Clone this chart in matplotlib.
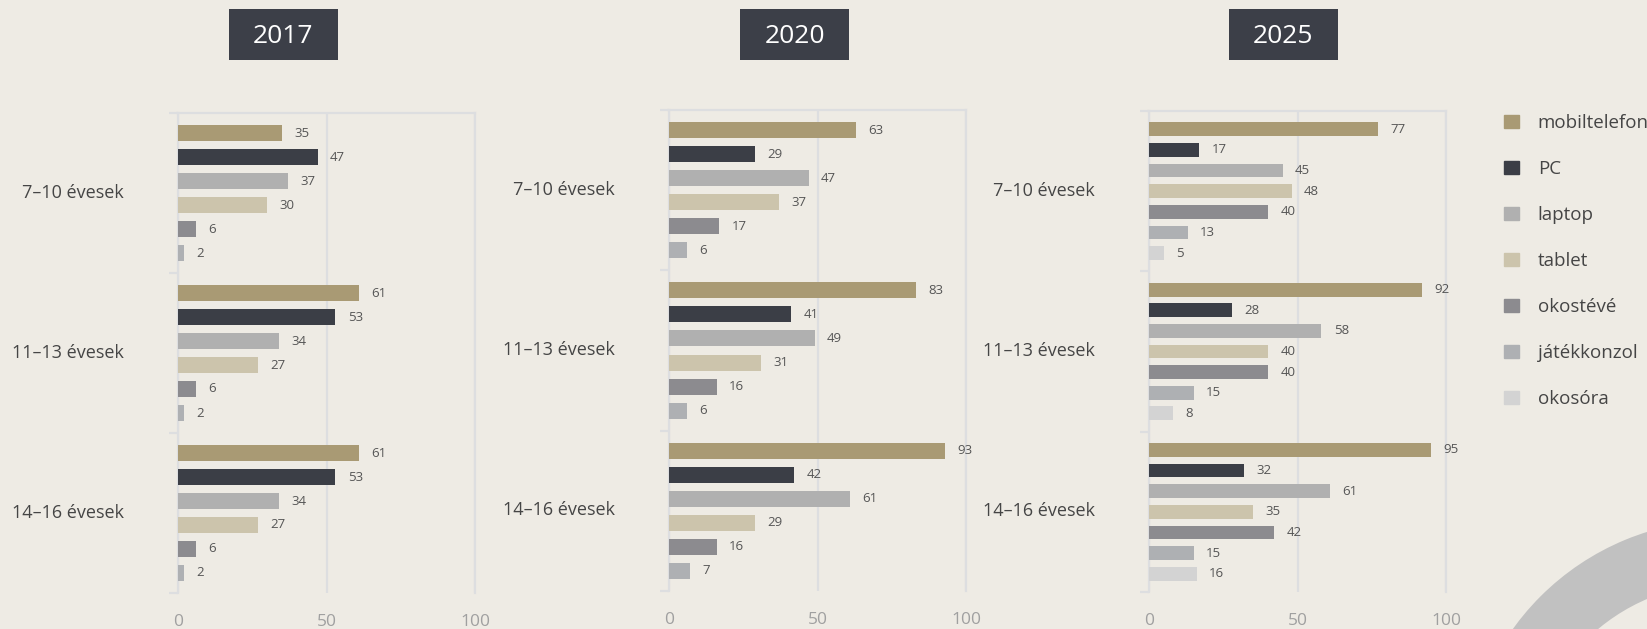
import matplotlib
matplotlib.use('Agg')
import matplotlib.pyplot as plt
import matplotlib.transforms as mtransforms
import numpy as np
from matplotlib.patches import Rectangle, Wedge, Patch

plt.rcParams['font.family'] = ['Open Sans', 'DejaVu Sans']

# ---------------- data ----------------
age_groups = ['7–10 évesek', '11–13 évesek', '14–16 évesek']
years = ['2017', '2020', '2025']
devices = ['mobiltelefon', 'PC', 'laptop', 'tablet', 'okostévé', 'játékkonzol', 'okosóra']

# values per year (2017, 2020, 2025), each list = age groups
mobiltelefon = [[35, 61, 61], [63, 83, 93], [77, 92, 95]]
pc = [[47, 53, 53], [29, 41, 42], [17, 28, 32]]
laptop = [[37, 34, 34], [47, 49, 61], [45, 58, 61]]
tablet = [[30, 27, 27], [37, 31, 29], [48, 40, 35]]
okosteve = [[6, 6, 6], [17, 16, 16], [40, 40, 42]]
jatekkonzol = [[2, 2, 2], [6, 6, 7], [13, 15, 15]]
okosora = [None, None, [5, 8, 16]]

series = [mobiltelefon, pc, laptop, tablet, okosteve, jatekkonzol, okosora]
colors = ['#A99A74', '#3B3E46', '#B0B0B0', '#CCC4AC', '#8C8B8F', '#AEB0B3', '#D3D3D3']

# ---------------- style ----------------
BG = '#EEEBE4'
GRID = '#DDDEE0'
BOX = '#3C3F48'
W, H = 1647, 629

fig = plt.figure(figsize=(W / 100, H / 100), dpi=100, facecolor=BG)

bg = fig.add_axes([0, 0, 1, 1], zorder=-1)
bg.set_xlim(0, W)
bg.set_ylim(0, H)
bg.axis('off')
bg.add_patch(Wedge((1725, H - 781), 261, 0, 360, width=63, color='#C1C1C1', lw=0))

# panel layout in pixels: axis left, top, bottom, title box left
panels = [(178, 113, 593, 229), (669, 110, 591, 740), (1149, 111, 592, 1229)]
AX_W = 297
up2 = mtransforms.ScaledTranslation(0, 2.5 / 100, fig.dpi_scale_trans)

for yi, (year, (l, t, b, bx)) in enumerate(zip(years, panels)):
    ax = fig.add_axes([l / W, 1 - b / H, AX_W / W, (b - t) / H])
    ax.set_facecolor('none')
    present = [(d, s[yi], c) for d, s, c in zip(devices, series, colors) if s[yi] is not None]
    n = len(present)
    step = 0.9 / n
    h = step * 2 / 3
    base = np.arange(len(age_groups))
    for k, (name, vals, col) in enumerate(present):
        ys = base - 0.45 + step * k + step / 2
        ax.barh(ys, vals, height=h, color=col, label=name, zorder=3)
        for v, yy in zip(vals, ys):
            ax.annotate(str(v), (v, yy), xytext=(9, 0), textcoords='offset points',
                        va='center', ha='left', fontsize=9.5, color='#555555')
    ax.set_xlim(0, 100)
    ax.set_ylim(2.5, -0.5)
    ax.set_xticks([0, 50, 100])
    ax.xaxis.grid(True, color=GRID, lw=1.6)
    ax.set_axisbelow(True)
    ax.tick_params(axis='x', length=0, pad=15, labelsize=12.5, labelcolor='#A0A0A0')
    ax.spines['bottom'].set_visible(False)
    for sp in ['left', 'top', 'right']:
        ax.spines[sp].set_color(GRID)
        ax.spines[sp].set_linewidth(1.6)
    ax.set_yticks(base)
    ax.set_yticklabels(age_groups)
    ax.tick_params(axis='y', which='major', length=0, pad=39, labelsize=13, labelcolor='#454545')
    for lab in ax.get_yticklabels():
        lab.set_transform(lab.get_transform() + up2)
    ax.set_yticks([-0.5, 0.5, 1.5, 2.5], minor=True)
    ax.tick_params(axis='y', which='minor', length=6.5, width=1.6, color=GRID)

    # year title box
    bg.add_patch(Rectangle((bx, H - 60), 109, 51, color=BOX, lw=0))
    bg.text(bx + 54.5, H - 36.5, year, ha='center', va='center', color='white', fontsize=19)

handles = [Patch(color=c, label=d) for d, c in zip(devices, colors)]
fig.legend(handles=handles, loc='upper left', bbox_to_anchor=(1504 / W, 1 - 114 / H),
           frameon=False, fontsize=13.5, handlelength=0.8, handleheight=0.7,
           handletextpad=1.0, labelspacing=1.49, borderpad=0, borderaxespad=0,
           labelcolor='#454545')

fig.savefig('out.png', dpi=100, facecolor=BG)
